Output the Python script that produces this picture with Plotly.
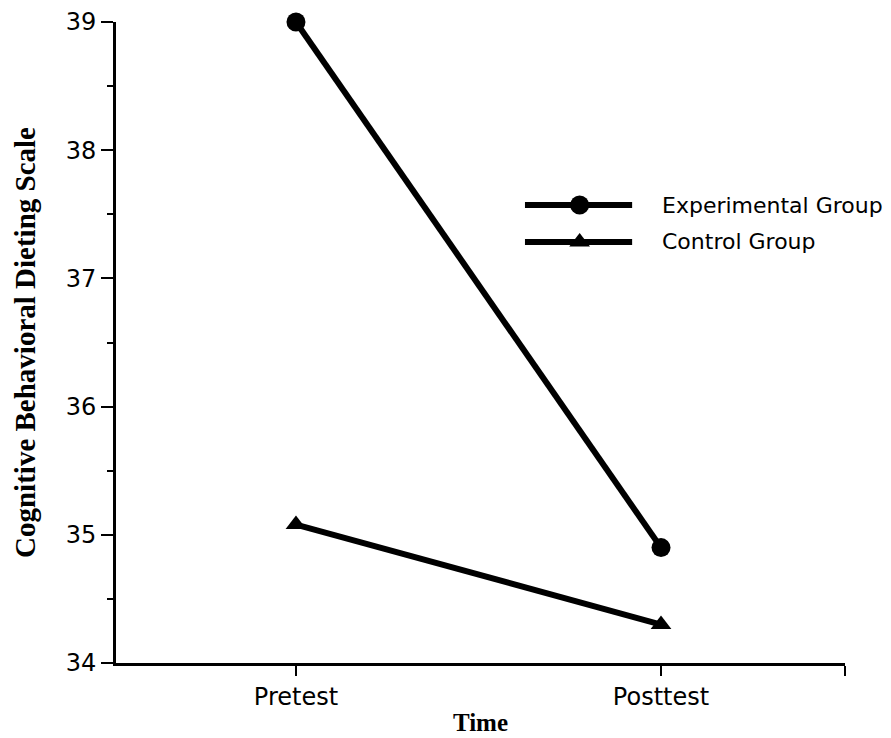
import plotly.graph_objects as go

time_points = [0, 1]
time_labels = ["Pretest", "Posttest"]
experimental = [39.0, 34.9]
control = [35.08, 34.3]
series_names = ["Experimental Group", "Control Group"]
y_ticks = [34, 35, 36, 37, 38, 39]

fig = go.Figure()
fig.add_trace(go.Scatter(x=time_points, y=experimental, mode="lines+markers",
                         line=dict(color="black", width=6),
                         marker=dict(symbol="circle", size=19, color="black"),
                         cliponaxis=False, showlegend=False))
fig.add_trace(go.Scatter(x=time_points, y=control, mode="lines+markers",
                         line=dict(color="black", width=6),
                         marker=dict(symbol="triangle-up", size=18, color="black"),
                         cliponaxis=False, showlegend=False))

# legend samples on hidden overlay axes
leg_y = [0.7145, 0.6568]
leg_sym = ["circle", "triangle-up"]
leg_size = [19, 18]
for name, yy, sym, sz in zip(series_names, leg_y, leg_sym, leg_size):
    fig.add_trace(go.Scatter(x=[0.561, 0.708], y=[yy, yy], mode="lines",
                             line=dict(color="black", width=6),
                             xaxis="x2", yaxis="y2", showlegend=False, cliponaxis=False))
    fig.add_trace(go.Scatter(x=[0.636], y=[yy], mode="markers",
                             marker=dict(symbol=sym, size=sz, color="black"),
                             xaxis="x2", yaxis="y2", showlegend=False, cliponaxis=False))
    fig.add_annotation(x=0.746, y=yy, xref="x2", yref="y2", text=name, showarrow=False,
                       xanchor="left", yanchor="middle",
                       font=dict(family="DejaVu Sans", size=22, color="black"))

fig.update_layout(
    width=883, height=730,
    margin=dict(l=108, r=46, t=14, b=75),
    paper_bgcolor="white", plot_bgcolor="white",
    font=dict(family="DejaVu Sans", size=24, color="black"),
    xaxis=dict(range=[-0.493, 1.504], tickvals=[0, 1, 1.504], ticktext=time_labels + [""],
               showgrid=False, zeroline=False, showline=True, linecolor="black", linewidth=3,
               ticks="outside", ticklen=10, tickwidth=2, tickcolor="black",
               ticklabeloverflow="allow", automargin=False,
               title=dict(text="<b>Time</b>", font=dict(family="Liberation Serif", size=25),
                          standoff=4)),
    yaxis=dict(range=[34, 39], tickvals=y_ticks, showgrid=False, zeroline=False,
               showline=True, linecolor="black", linewidth=3,
               ticks="outside", ticklen=12, tickwidth=2, tickcolor="black",
               ticklabeloverflow="allow", automargin=False,
               minor=dict(dtick=0.5, ticks="outside", ticklen=6, tickwidth=2, tickcolor="black"),
               title=dict(text="<b>Cognitive Behavioral Dieting Scale</b>",
                          font=dict(family="Liberation Serif", size=29), standoff=22)),
    xaxis2=dict(range=[0, 1], overlaying="x", visible=False, anchor="y2"),
    yaxis2=dict(range=[0, 1], overlaying="y", visible=False, anchor="x2"),
)

fig.write_html("out.html")
